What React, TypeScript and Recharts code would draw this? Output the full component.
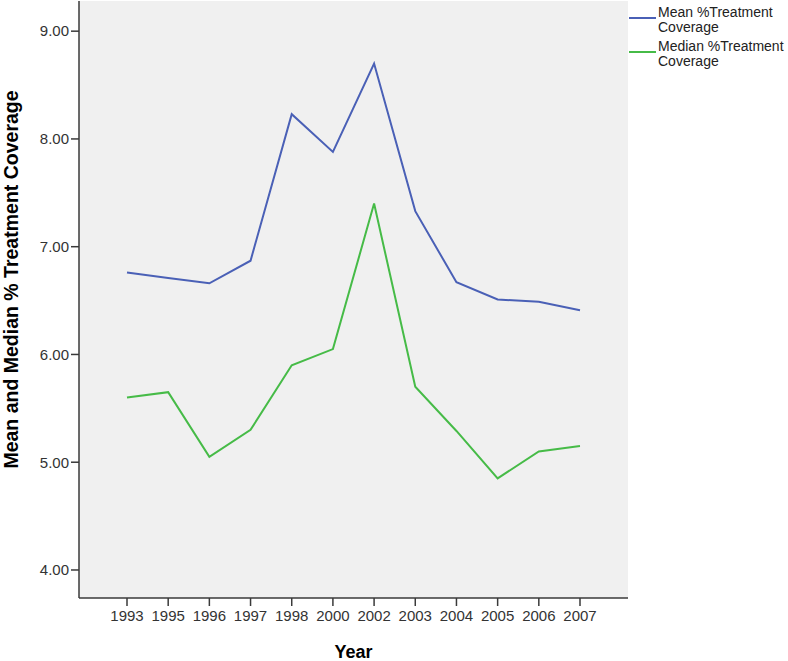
import { LineChart, Line, XAxis, YAxis, CartesianGrid } from 'recharts';

// Values
const years = ['1993', '1995', '1996', '1997', '1998', '2000', '2002', '2003', '2004', '2005', '2006', '2007'];
const meanCoverage = [6.76, 6.71, 6.66, 6.87, 8.23, 7.88, 8.7, 7.33, 6.67, 6.51, 6.49, 6.41];
const medianCoverage = [5.6, 5.65, 5.05, 5.3, 5.9, 6.05, 7.4, 5.7, 5.29, 4.85, 5.1, 5.15];
const yTicks = [4, 5, 6, 7, 8, 9];

const seriesInfo = [
  { key: 'mean', lines: ['Mean %Treatment', 'Coverage'], color: '#4a60b6' },
  { key: 'median', lines: ['Median %Treatment', 'Coverage'], color: '#46bb47' },
];

const data = years.map((year, i) => ({
  year,
  mean: meanCoverage[i],
  median: medianCoverage[i],
}));

const FONT = '"Liberation Sans", Arial, sans-serif';
const AXIS_COLOR = '#3a3a3a';

export default function App() {
  return (
    <div style={{ position: 'absolute', left: 0, top: 0, width: 788, height: 661, background: '#fff', fontFamily: FONT }}>
      <LineChart width={788} height={661} data={data} margin={{ top: 1, right: 160, left: 0, bottom: 0 }}>
        <CartesianGrid fill="#f0f0f0" stroke="none" horizontal={false} vertical={false} />
        <XAxis
          dataKey="year"
          height={63}
          padding={{ left: 48, right: 48 }}
          axisLine={{ stroke: AXIS_COLOR, strokeWidth: 1.5 }}
          tickLine={{ stroke: AXIS_COLOR, strokeWidth: 1.5 }}
          tickSize={8}
          tickMargin={4}
          tick={{ fill: '#333', fontSize: 15, fontFamily: FONT }}
          interval={0}
          label={{ value: 'Year', position: 'insideBottom', offset: 3, style: { fontWeight: 'bold', fontSize: 18, fill: '#000', fontFamily: FONT } }}
        />
        <XAxis
          xAxisId="top"
          orientation="top"
          dataKey="year"
          height={0}
          padding={{ left: 48, right: 48 }}
          tick={false}
          tickLine={false}
          axisLine={{ stroke: '#666', strokeWidth: 1.5 }}
        />
        <YAxis
          width={79}
          domain={[3.74, 9.28]}
          ticks={yTicks}
          allowDataOverflow
          tickFormatter={(v: number) => v.toFixed(2)}
          axisLine={{ stroke: AXIS_COLOR, strokeWidth: 1.5 }}
          tickLine={{ stroke: AXIS_COLOR, strokeWidth: 1.5 }}
          tickSize={8}
          tickMargin={2}
          tick={{ fill: '#333', fontSize: 15, fontFamily: FONT }}
          label={{
            value: 'Mean and Median % Treatment Coverage',
            angle: -90,
            position: 'center',
            dx: -28,
            dy: -20,
            style: { fontWeight: 'bold', fontSize: 19.5, fill: '#000', fontFamily: FONT },
          }}
        />
        <YAxis
          yAxisId="right"
          orientation="right"
          width={0}
          domain={[3.74, 9.28]}
          tick={false}
          tickLine={false}
          axisLine={{ stroke: AXIS_COLOR, strokeWidth: 1.5 }}
        />
        {seriesInfo.map((s) => (
          <Line
            key={s.key}
            type="linear"
            dataKey={s.key}
            stroke={s.color}
            strokeWidth={2}
            dot={false}
            activeDot={false}
            isAnimationActive={false}
          />
        ))}
      </LineChart>

      {/* legend, to the right of the plot frame */}
      <div style={{ position: 'absolute', left: 629, top: 5, fontSize: 14, lineHeight: '15px', color: '#222' }}>
        {seriesInfo.map((s) => (
          <div key={s.key} style={{ display: 'flex', alignItems: 'flex-start', height: 34 }}>
            <div style={{ width: 27, height: 2, background: s.color, marginTop: 12, marginRight: 2 }} />
            <div>
              {s.lines.map((t) => (
                <div key={t}>{t}</div>
              ))}
            </div>
          </div>
        ))}
      </div>
    </div>
  );
}
